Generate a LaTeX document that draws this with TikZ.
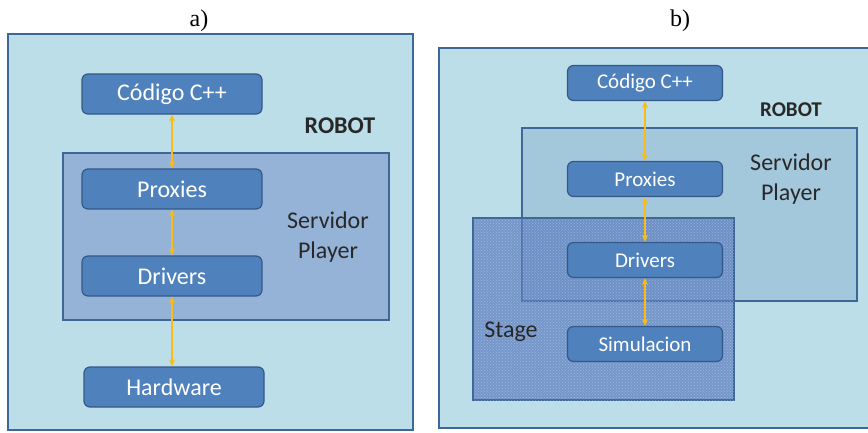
\documentclass[tikz,border=0pt]{standalone}
\usepackage{fontspec}
\setmainfont{Liberation Serif}
\newfontfamily\calibri{Carlito}
\usepackage{tikz}
\usetikzlibrary{arrows.meta, positioning, calc, patterns}
\definecolor{robotblue}{RGB}{187,222,232}
\definecolor{frameblue}{RGB}{62,102,150}
\definecolor{boxblue}{RGB}{79,129,189}
\definecolor{boxline}{RGB}{52,88,135}
\definecolor{playerblue}{RGB}{149,179,215}
\definecolor{playerglass}{RGB}{140,180,210}
\definecolor{stageblue}{RGB}{88,122,190}
\definecolor{linkorange}{RGB}{250,188,20}
\definecolor{labeldark}{RGB}{40,40,40}

\begin{document}
\begin{tikzpicture}[
    x=1pt, y=-1pt,
    robot/.style={draw=frameblue, fill=robotblue, line width=1.5pt},
    layer/.style={draw=frameblue, line width=1.2pt},
    block/.style={rectangle, rounded corners=6pt, draw=boxline, fill=boxblue, line width=1.2pt, text=white, font=\calibri\fontsize{24}{28}\selectfont, minimum width=180pt, minimum height=40pt, inner sep=0pt},
    smallblock/.style={block, font=\calibri\fontsize{21}{25}\selectfont, minimum width=155pt, minimum height=35pt},
    tag/.style={text=labeldark, font=\calibri\fontsize{24}{30}\selectfont, align=center},
    robottag/.style={text=labeldark, font=\calibri\bfseries\fontsize{24}{28}\selectfont},
    caption/.style={font=\fontsize{24}{28}\selectfont},
    biarrow/.style={{Stealth[length=7pt,width=6pt]}-{Stealth[length=7pt,width=6pt]}, draw=linkorange, line width=1.1pt}
]
\useasboundingbox (0,0) rectangle (868,432);

% Panel a
\node[caption] (capA) at (199,21) {a)};
\draw[robot] (8,34) rectangle (413,430);
\draw[layer, fill=playerblue] (63,153) rectangle (389,320);
\node[robottag] (robotA) at (340,126) {ROBOT};
\node[tag] (playerA) at (328,237) {Servidor\\Player};
\node[block] (codeA) at (172,94) {Código C++};
\node[block] (proxA) at (172,189) {Proxies};
\node[block] (drvA) at (172,276) {Drivers};
\node[block] (hwA) at (174,387) {Hardware};

\draw[biarrow] (codeA) -- (proxA);
\draw[biarrow] (proxA) -- (drvA);
\draw[biarrow] (drvA.south) -- (drvA.south |- hwA.north);

% Panel b
\node[caption] (capB) at (680,21) {b)};
\draw[robot] (439,48) rectangle (880,428);
\draw[layer, fill=playerglass, fill opacity=0.5] (522,128) rectangle (857,301);
\draw[layer, fill=stageblue, fill opacity=0.7] (473,218) rectangle (734,400);
\fill[pattern=crosshatch dots, pattern color=white, opacity=0.3] (473,218) rectangle (734,400);
\node[robottag, font=\calibri\bfseries\fontsize{21}{25}\selectfont] (robotB) at (791,110) {ROBOT};
\node[tag] (playerB) at (791,179) {Servidor\\Player};
\node[tag] (stageB) at (511,332) {Stage};
\node[smallblock] (codeB) at (645,83) {Código C++};
\node[smallblock] (proxB) at (645,179) {Proxies};
\node[smallblock] (drvB) at (645,260) {Drivers};
\node[smallblock] (simB) at (645,344) {Simulacion};

\draw[biarrow] (codeB) -- (proxB);
\draw[biarrow] (proxB) -- (drvB);
\draw[biarrow] (drvB) -- (simB);

\end{tikzpicture}
\end{document}
